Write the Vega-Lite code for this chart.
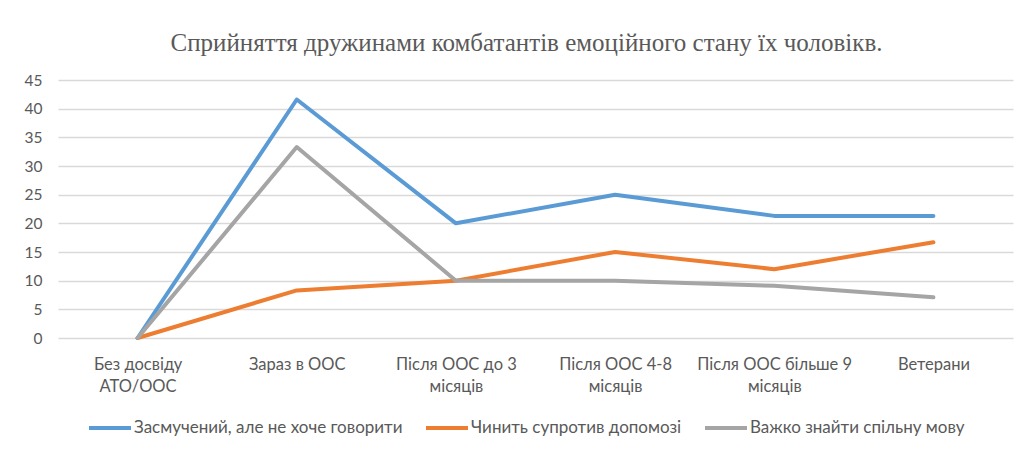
{
  "$schema": "https://vega.github.io/schema/vega-lite/v6.json",
  "autosize": {"type": "none"},
  "width": 955,
  "height": 258,
  "padding": {"left": 58, "top": 80, "right": 14, "bottom": 112},
  "background": "white",
  "title": {
    "text": "Сприйняття дружинами комбатантів емоційного стану їх чоловікв.",
    "font": "Liberation Serif",
    "fontSize": 25,
    "fontWeight": "normal",
    "color": "#595959",
    "anchor": "middle",
    "dx": -9,
    "offset": 17
  },
  "data": {
    "values": [
      {"cat": "Без досвіду|АТО/ООС", "series": "Засмучений, але не хоче говорити", "value": 0},
      {"cat": "Зараз в ООС", "series": "Засмучений, але не хоче говорити", "value": 41.6},
      {"cat": "Після ООС до 3|місяців", "series": "Засмучений, але не хоче говорити", "value": 20},
      {"cat": "Після ООС 4-8|місяців", "series": "Засмучений, але не хоче говорити", "value": 25},
      {"cat": "Після ООС більше 9|місяців", "series": "Засмучений, але не хоче говорити", "value": 21.3},
      {"cat": "Ветерани", "series": "Засмучений, але не хоче говорити", "value": 21.3},
      {"cat": "Без досвіду|АТО/ООС", "series": "Чинить супротив допомозі", "value": 0},
      {"cat": "Зараз в ООС", "series": "Чинить супротив допомозі", "value": 8.3},
      {"cat": "Після ООС до 3|місяців", "series": "Чинить супротив допомозі", "value": 10},
      {"cat": "Після ООС 4-8|місяців", "series": "Чинить супротив допомозі", "value": 15},
      {"cat": "Після ООС більше 9|місяців", "series": "Чинить супротив допомозі", "value": 12},
      {"cat": "Ветерани", "series": "Чинить супротив допомозі", "value": 16.7},
      {"cat": "Без досвіду|АТО/ООС", "series": "Важко знайти спільну мову", "value": 0},
      {"cat": "Зараз в ООС", "series": "Важко знайти спільну мову", "value": 33.3},
      {"cat": "Після ООС до 3|місяців", "series": "Важко знайти спільну мову", "value": 10},
      {"cat": "Після ООС 4-8|місяців", "series": "Важко знайти спільну мову", "value": 10},
      {"cat": "Після ООС більше 9|місяців", "series": "Важко знайти спільну мову", "value": 9.1},
      {"cat": "Ветерани", "series": "Важко знайти спільну мову", "value": 7.1}
    ]
  },
  "mark": {"type": "line", "strokeWidth": 4, "strokeCap": "round", "strokeJoin": "round"},
  "encoding": {
    "x": {
      "field": "cat",
      "type": "nominal",
      "sort": ["Без досвіду|АТО/ООС", "Зараз в ООС", "Після ООС до 3|місяців", "Після ООС 4-8|місяців", "Після ООС більше 9|місяців", "Ветерани"],
      "scale": {"type": "point", "padding": 0.5},
      "axis": {
        "title": null,
        "labelAngle": 0,
        "labelExpr": "split(datum.label, '|')",
        "labelLineHeight": 22,
        "labelPadding": 18,
        "labelFont": "Lato",
        "labelFontSize": 16.5,
        "labelColor": "#595959",
        "ticks": false,
        "domain": false,
        "grid": false
      }
    },
    "y": {
      "field": "value",
      "type": "quantitative",
      "scale": {"domain": [0, 45], "nice": false},
      "axis": {
        "title": null,
        "values": [0, 5, 10, 15, 20, 25, 30, 35, 40, 45],
        "labelFont": "Lato",
        "labelFontSize": 15.5,
        "labelColor": "#595959",
        "labelPadding": 16,
        "ticks": false,
        "domain": false,
        "grid": true,
        "gridColor": "#d9d9d9",
        "gridWidth": 1.3
      }
    },
    "color": {
      "field": "series",
      "type": "nominal",
      "scale": {
        "domain": ["Засмучений, але не хоче говорити", "Чинить супротив допомозі", "Важко знайти спільну мову"],
        "range": ["#5B9BD5", "#ED7D31", "#A5A5A5"]
      },
      "legend": {
        "title": null,
        "orient": "none",
        "direction": "horizontal",
        "legendX": 29,
        "legendY": 325,
        "symbolType": "stroke",
        "symbolSize": 1764,
        "symbolStrokeWidth": 4,
        "labelFont": "Lato",
        "labelFontSize": 17,
        "labelColor": "#595959",
        "labelOffset": 1,
        "columnPadding": 15,
        "labelLimit": 400
      }
    }
  },
  "config": {"view": {"stroke": null}}
}
